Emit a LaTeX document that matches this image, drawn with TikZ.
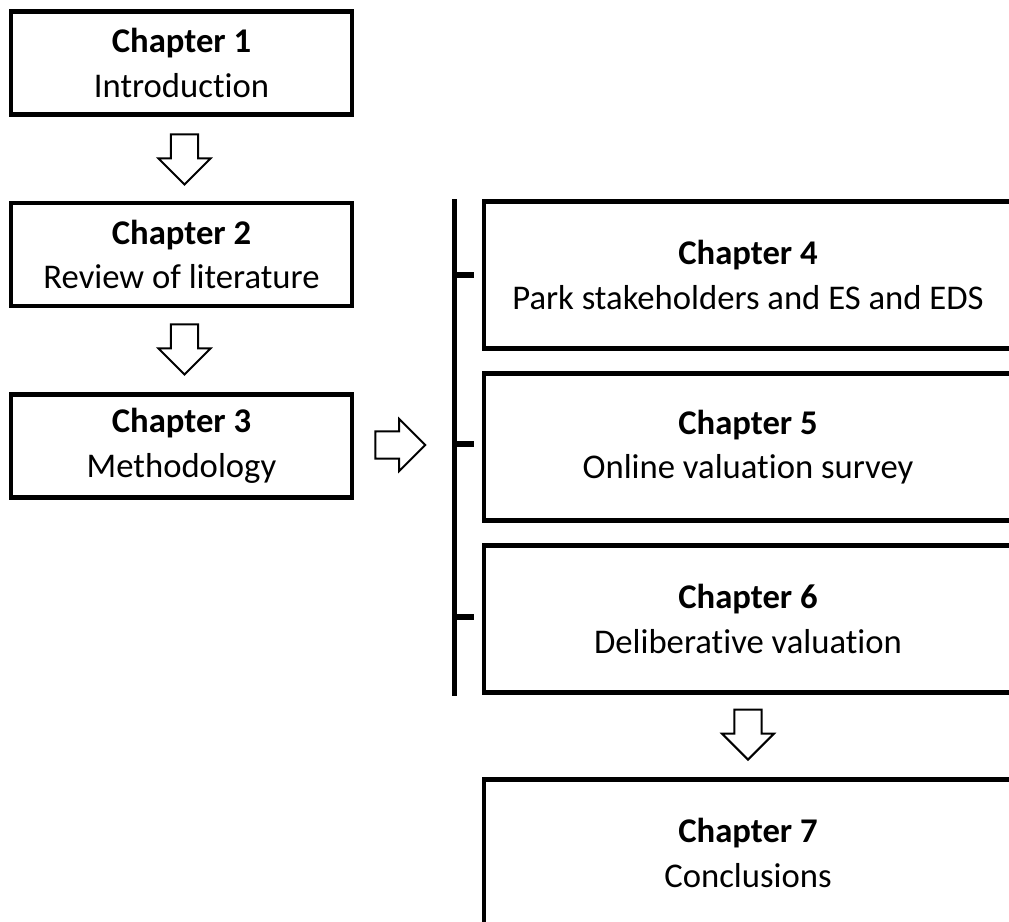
\documentclass[tikz,border=0pt]{standalone}
\usepackage{fontspec}
\setmainfont[Ligatures=NoCommon]{Carlito}
\usetikzlibrary{shapes.arrows,calc}
\begin{document}
\begin{tikzpicture}[x=0.75pt,y=-0.75pt,
  chapbox/.style={draw=black, line width=3.4pt, rectangle, inner sep=0pt,
    align=center, font=\fontsize{26}{33.5}\selectfont},
  leftbox/.style={chapbox, minimum width=255.75pt, minimum height=77.5pt},
  rightbox/.style={chapbox, minimum width=396pt, minimum height=110pt},
  blockarrow/.style={draw=black, line width=1.5pt, fill=white, single arrow,
    single arrow head extend=9.4pt, single arrow tip angle=90,
    inner xsep=0pt, inner ysep=9.4pt, minimum height=37.5pt, anchor=tail},
  bracket/.style={draw=black, line width=3.8pt}]
\useasboundingbox (0,0) rectangle (1009,921);
\clip (0,0) rectangle (1009,921);

% left column
\node[leftbox] (c1) at (181.5,63)  {\textbf{Chapter 1}\\Introduction};
\node[leftbox] (c2) at (181.5,254.5) {\textbf{Chapter 2}\\Review of literature};
\node[leftbox] (c3) at (181.5,446) {\textbf{Chapter 3}\\Methodology};

% right column (boxes run past the right edge)
\node[rightbox] (c4) at (748,275) {\textbf{Chapter 4}\\Park stakeholders and ES and EDS};
\node[rightbox] (c5) at (748,447) {\textbf{Chapter 5}\\Online valuation survey};
\node[rightbox] (c6) at (748,619) {\textbf{Chapter 6}\\Deliberative valuation};
\node[rightbox] (c7) at (748,853) {\textbf{Chapter 7}\\Conclusions};

% grouping bracket
\coordinate (bartop) at (454.5,199);
\coordinate (barbot) at (454.5,696);
\draw[bracket] (bartop) -- (barbot);
\draw[bracket] (bartop|-c4.west) -- ++(19.5,0);
\draw[bracket] ($(bartop|-c5.west)+(0,-3)$) -- ++(19.5,0);
\draw[bracket] ($(bartop|-c6.west)+(0,-2)$) -- ++(19.5,0);

% block arrows, placed by their tails
\node[blockarrow, rotate=-90] (a1) at ($(c1.south)+(3,16.5)$) {};
\node[blockarrow, rotate=-90] (a2) at ($(c2.south)+(3,15)$) {};
\node[blockarrow] (a3) at ($(c3.east)+(20,-1)$) {};
\node[blockarrow, rotate=-90] (a4) at ($(c6.south)+(0,14)$) {};
\end{tikzpicture}
\end{document}
